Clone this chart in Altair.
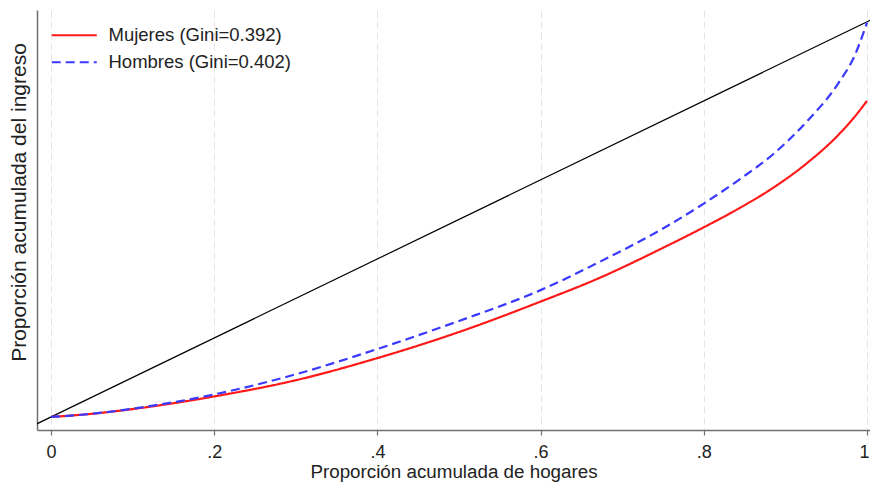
import altair as alt
import pandas as pd

# Data
x_vals = [0, 0.05, 0.1, 0.2, 0.3, 0.4, 0.5, 0.6, 0.67, 0.75, 0.8, 0.845, 0.885, 0.925, 0.965, 0.985, 1.0]
mujeres = [0, 0.008, 0.02, 0.052, 0.093, 0.149, 0.215, 0.292, 0.350, 0.428, 0.480, 0.530, 0.580, 0.640, 0.714, 0.760, 0.80]
hombres = [0, 0.008, 0.021, 0.057, 0.108, 0.172, 0.243, 0.321, 0.39, 0.477, 0.540, 0.603, 0.665, 0.745, 0.845, 0.915, 0.998]
diag_x = [-0.018, 1.012]
series = ["Mujeres (Gini=0.392)", "Hombres (Gini=0.402)"]
x_ticks = [0, 0.2, 0.4, 0.6, 0.8, 1]

rows = []
for i, xv in enumerate(x_vals):
    rows.append({"x": xv, "y": mujeres[i], "series": series[0], "order": i})
    rows.append({"x": xv, "y": hombres[i], "series": series[1], "order": i})
curves = pd.DataFrame(rows)
diag = pd.DataFrame({"x": diag_x, "y": diag_x})

FONT = "Liberation Sans"
xscale = alt.Scale(domain=[-0.0172, 1.0037], nice=False, zero=False)
yscale = alt.Scale(domain=[-0.033, 1.03], nice=False, zero=False)

xaxis = alt.Axis(
    title="Proporción acumulada de hogares",
    values=x_ticks,
    labelExpr="datum.value == 0 ? '0' : (datum.value == 1 ? '1' : replace(format(datum.value, '.1f'), '0.', '.'))",
    grid=True, gridColor="#e4e4e4", gridDash=[7, 4], gridWidth=1,
    domainColor="#707070", domainWidth=1.5,
    tickColor="#707070", tickSize=5, tickWidth=1.2,
    labelFont=FONT, labelFontSize=18, labelColor="#222222", labelPadding=8,
    labelFlush=5, labelFlushOffset=2,
    titleFont=FONT, titleFontSize=18.8, titleFontWeight="normal", titleColor="#222222",
    titleY=47, titleBaseline="alphabetic",
)
yaxis = alt.Axis(
    title="Proporción acumulada del ingreso",
    labels=False, ticks=False, grid=False,
    domainColor="#707070", domainWidth=1.5,
    titleFont=FONT, titleFontSize=21, titleFontWeight="normal", titleColor="#222222",
    titleX=-12, titleY=192, titleBaseline="alphabetic",
)

diag_line = alt.Chart(diag).mark_line(color="black", strokeWidth=1.2, clip=True).encode(
    x=alt.X("x:Q", scale=xscale, axis=xaxis),
    y=alt.Y("y:Q", scale=yscale, axis=yaxis),
)

legend = alt.Legend(
    title=None, orient="none", legendX=28, legendY=16,
    symbolType="M-5,0H5", symbolSize=81, symbolStrokeWidth=2,
    labelFont=FONT, labelFontSize=18.5, labelColor="#222222", labelOffset=25, labelLimit=400,
    rowPadding=8, padding=0,
)

lines = alt.Chart(curves).mark_line(strokeWidth=2.2, interpolate="monotone").encode(
    x=alt.X("x:Q", scale=xscale),
    y=alt.Y("y:Q", scale=yscale),
    color=alt.Color("series:N", scale=alt.Scale(domain=series, range=["#ff1a1a", "#3a3aff"]), legend=legend),
    strokeDash=alt.StrokeDash("series:N", scale=alt.Scale(domain=series, range=[[1, 0], [9, 5]]), legend=legend),
    order="order:Q",
)

chart = alt.layer(diag_line, lines).properties(
    width=833, height=420,
    autosize=alt.AutoSizeParams(type="none"),
    padding={"left": 29, "top": 2, "right": 0, "bottom": 55},
    background="white",
).configure_view(stroke=None)

chart.save("out.html", embed_options={"renderer": "svg", "actions": False})
